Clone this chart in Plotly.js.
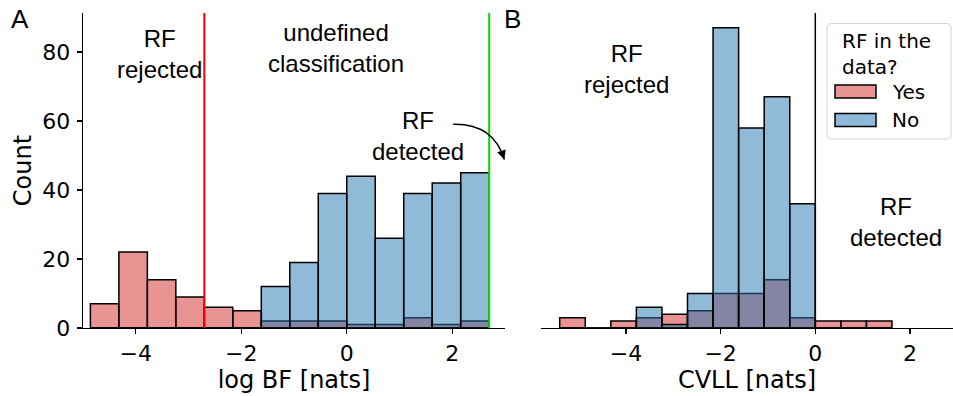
<!DOCTYPE html>
<html>
<head>
<meta charset="utf-8">
<script src="https://cdn.plot.ly/plotly-3.0.1.min.js"></script>
<style>html,body{margin:0;padding:0;background:#fff}#chart{width:953px;height:396px}</style>
</head>
<body>
<div id="chart"></div>
<script>
// ---- data ----
const seriesNames = ["Yes", "No"];
const seriesColors = ["rgba(214,39,40,0.5)", "rgba(31,119,180,0.5)"];
const legendTitle = "RF in the<br>data?";

// Panel A: log BF histogram
const logBFEdges = [-4.86, -4.32, -3.78, -3.24, -2.70, -2.16, -1.62, -1.08, -0.54, 0, 0.54, 1.08, 1.62, 2.16, 2.70];
const logBFYes = [7, 22, 14, 9, 6, 5, 2, 2, 2, 1, 1, 3, 1, 2];
const logBFNo  = [0, 0, 0, 0, 0, 0, 12, 19, 39, 44, 26, 39, 42, 45];
const logBFThresholds = [-2.70, 2.70];

// Panel B: CVLL histogram
const cvllEdges = [-5.40, -4.86, -4.32, -3.78, -3.24, -2.70, -2.16, -1.62, -1.08, -0.54, 0, 0.54, 1.08, 1.62];
const cvllYes = [3, 0, 2, 3, 4, 5, 10, 10, 14, 3, 2, 2, 2];
const cvllNo  = [0, 0, 0, 6, 1, 10, 87, 58, 67, 36, 0, 0, 0];
const cvllThreshold = 0;

const xTicks = [-4, -2, 0, 2];
const yTicks = [0, 20, 40, 60, 80];

// ---- helpers ----
function histTrace(edges, counts, idx, xaxis) {
  return {
    type: "bar",
    x: edges.slice(0, -1),
    y: counts,
    width: edges.slice(1).map((e, i) => e - edges[i]),
    offset: 0,
    name: seriesNames[idx],
    legendgroup: seriesNames[idx],
    showlegend: false,
    xaxis: xaxis, yaxis: "y",
    marker: { color: seriesColors[idx], line: { color: "#000", width: 1.5 } },
    hoverinfo: "x+y+name"
  };
}

const data = [
  histTrace(logBFEdges, logBFYes, 0, "x"),
  histTrace(logBFEdges, logBFNo, 1, "x"),
  histTrace(cvllEdges, cvllYes, 0, "x2"),
  histTrace(cvllEdges, cvllNo, 1, "x2")
];

const W = 953, H = 396, ML = 83, MR = 0, MT = 13, MB = 68;
const px2paperX = px => (px - ML) / (W - ML - MR);
const px2paperY = py => (H - MB - py) / (H - MT - MB);

const tickFont = { family: "DejaVu Sans", size: 22, color: "#000" };
const titleFont = { family: "DejaVu Sans", size: 24, color: "#000" };
const annFont = { family: "Liberation Sans, Arial, sans-serif", size: 24, color: "#000" };
const legFont = { family: "DejaVu Sans", size: 20, color: "#000" };

const axisCommon = {
  showgrid: false, zeroline: false, showline: true, linecolor: "#000", linewidth: 1.25,
  ticks: "outside", ticklen: 5, tickwidth: 1.25, tickcolor: "#000", tickfont: tickFont,
  fixedrange: true
};

// custom legend (rounded frame, wide patches like the reference)
function roundedRectPath(x0, y0, x1, y1, r) {
  const X = px2paperX, Y = px2paperY;
  return `M ${X(x0 + r)} ${Y(y0)} L ${X(x1 - r)} ${Y(y0)} Q ${X(x1)} ${Y(y0)} ${X(x1)} ${Y(y0 + r)} ` +
         `L ${X(x1)} ${Y(y1 - r)} Q ${X(x1)} ${Y(y1)} ${X(x1 - r)} ${Y(y1)} ` +
         `L ${X(x0 + r)} ${Y(y1)} Q ${X(x0)} ${Y(y1)} ${X(x0)} ${Y(y1 - r)} ` +
         `L ${X(x0)} ${Y(y0 + r)} Q ${X(x0)} ${Y(y0)} ${X(x0 + r)} ${Y(y0)} Z`;
}
const legendShapes = [
  { type: "path", xref: "paper", yref: "paper", path: roundedRectPath(827, 23.5, 951, 139, 4),
    fillcolor: "rgba(255,255,255,0.8)", line: { color: "#d4d4d4", width: 1 }, layer: "above" }
];
const legendAnn = [
  { xref: "paper", yref: "paper", x: px2paperX(840), y: px2paperY(54), xanchor: "left", yanchor: "middle",
    align: "left", text: legendTitle, showarrow: false, font: legFont }
];
const itemY = [91.5, 120];
seriesNames.forEach((nm, i) => {
  legendShapes.push({ type: "rect", xref: "paper", yref: "paper",
    x0: px2paperX(835), x1: px2paperX(876), y0: px2paperY(itemY[i] - 6.5), y1: px2paperY(itemY[i] + 6.5),
    fillcolor: seriesColors[i], line: { color: "#000", width: 1.5 }, layer: "above" });
  legendAnn.push({ xref: "paper", yref: "paper", x: px2paperX(890), y: px2paperY(itemY[i]),
    xanchor: "left", yanchor: "middle", text: nm, showarrow: false, font: legFont });
});

const layout = {
  width: W, height: H,
  margin: { l: ML, r: MR, t: MT, b: MB },
  paper_bgcolor: "#fff", plot_bgcolor: "rgba(0,0,0,0)",
  barmode: "overlay",
  bargap: 0,
  showlegend: false,
  xaxis: Object.assign({}, axisCommon, {
    domain: [0, 0.48506], range: [-5.0, 3.0], tickvals: xTicks,
    title: { text: "log BF [nats]", font: titleFont, standoff: 5 }
  }),
  xaxis2: Object.assign({}, axisCommon, {
    domain: [0.52644, 1], range: [-5.795, 2.909], tickvals: xTicks, anchor: "y",
    title: { text: "CVLL [nats]", font: titleFont, standoff: 5 }
  }),
  yaxis: Object.assign({}, axisCommon, {
    domain: [0, 1], range: [0, 91.3], tickvals: yTicks, ticklabelstandoff: 2,
    title: { text: "Count", font: titleFont, standoff: 4 }
  }),
  yaxis2: Object.assign({}, axisCommon, {
    domain: [0, 1], range: [0, 91.3], tickvals: yTicks, anchor: "x2", matches: "y",
    showticklabels: false
  }),
  shapes: [
    { type: "line", xref: "x", yref: "y domain", x0: logBFThresholds[0], x1: logBFThresholds[0], y0: 0, y1: 1,
      line: { color: "#ff0000", width: 2 }, layer: "above" },
    { type: "line", xref: "x", yref: "y domain", x0: logBFThresholds[1], x1: logBFThresholds[1], y0: 0, y1: 1,
      line: { color: "#00e000", width: 2 }, layer: "above" },
    { type: "line", xref: "x2", yref: "y domain", x0: cvllThreshold, x1: cvllThreshold, y0: 0, y1: 1,
      line: { color: "#000", width: 1.5 }, layer: "above" },
    // curved arrow body (RF detected -> beyond the green threshold)
    { type: "path", xref: "x", yref: "y", path: "M 2.018 59.06 Q 2.778 59.35 2.987 48.85",
      line: { color: "#000", width: 1.5 }, layer: "above" }
  ].concat(legendShapes),
  annotations: [
    { xref: "x", yref: "y", x: -3.545, y: 79.4, text: "RF<br>rejected", showarrow: false, font: annFont },
    { xref: "x", yref: "y", x: -0.203, y: 81.3, text: "undefined<br>classification", showarrow: false, font: annFont },
    { xref: "x", yref: "y", x: 1.354, y: 55.6, text: "RF<br>detected", showarrow: false, font: annFont },
    { xref: "x", yref: "y", x: 2.987, y: 48.85, ax: -3, ay: -9, text: "", showarrow: true,
      arrowhead: 2, arrowsize: 1.2, arrowwidth: 1.5, arrowcolor: "#000", standoff: 0 },
    { xref: "x2", yref: "y", x: -3.985, y: 75.07, text: "RF<br>rejected", showarrow: false, font: annFont },
    { xref: "x2", yref: "y", x: 1.705, y: 30.7, text: "RF<br>detected", showarrow: false, font: annFont },
    { xref: "paper", yref: "paper", x: px2paperX(20), y: px2paperY(18.5), xanchor: "center", yanchor: "middle",
      text: "A", showarrow: false, font: { family: "Liberation Sans, Arial, sans-serif", size: 26, color: "#000" } },
    { xref: "paper", yref: "paper", x: px2paperX(512), y: px2paperY(18.5), xanchor: "center", yanchor: "middle",
      text: "B", showarrow: false, font: { family: "Liberation Sans, Arial, sans-serif", size: 26, color: "#000" } }
  ].concat(legendAnn)
};

Plotly.newPlot("chart", data, layout, { staticPlot: true, displayModeBar: false });
</script>
</body>
</html>
